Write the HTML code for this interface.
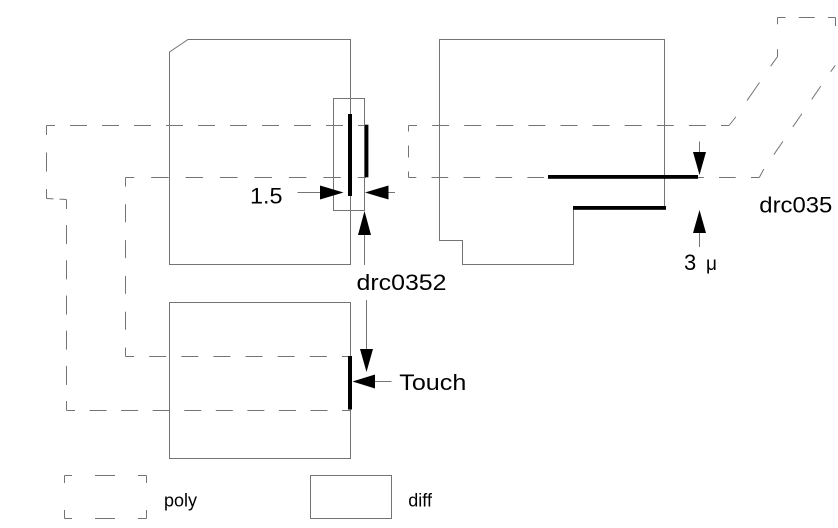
<!DOCTYPE html>
<html>
<head>
<meta charset="utf-8">
<style>
  html,body{margin:0;padding:0;background:#fff;}
  svg{display:block;}
  text{font-family:"Liberation Sans",Arial,sans-serif;fill:#000;}
</style>
</head>
<body>
<svg width="838" height="528" viewBox="0 0 838 528" xmlns="http://www.w3.org/2000/svg">
  <rect width="838" height="528" fill="#fff"/>

  <!-- diff outlines -->
  <g fill="none" stroke="#747474" stroke-width="1">
    <path d="M169.5,52 L188,39.5 L350.5,39.5 L350.5,264.5 L169.5,264.5 Z"/>
    <path d="M439.5,39.5 H664.5 V207.5 H573.5 V264.5 H462.5 V240.5 H439.5 Z"/>
    <rect x="169.5" y="302.5" width="181" height="156"/>
    <rect x="333.5" y="98.5" width="31" height="112"/>
    <rect x="310.5" y="475.5" width="81" height="43"/>
  </g>

  <!-- poly (dashed) outlines -->
  <g fill="none" stroke="#747474" stroke-width="1">
    <!-- left poly outer -->
    <line x1="46.5" y1="125.5" x2="366" y2="125.5" stroke-dasharray="17 15" stroke-dashoffset="8.5"/>
    <line x1="46.5" y1="125.5" x2="46.5" y2="198.5" stroke-dasharray="19 17.5" stroke-dashoffset="9.5"/>
    <line x1="46.5" y1="198.5" x2="66.5" y2="199.5" stroke-dasharray="14 6" stroke-dashoffset="7"/>
    <line x1="66.5" y1="199.5" x2="66.5" y2="410.5" stroke-dasharray="19 16.17" stroke-dashoffset="9.5"/>
    <line x1="66.5" y1="410.5" x2="350" y2="410.5" stroke-dasharray="17 14.56" stroke-dashoffset="8.5"/>
    <!-- left poly inner -->
    <line x1="125.5" y1="177.5" x2="366" y2="177.5" stroke-dasharray="17.5 16.93" stroke-dashoffset="8.75"/>
    <line x1="125.5" y1="177.5" x2="125.5" y2="356.5" stroke-dasharray="18 17.8" stroke-dashoffset="9"/>
    <line x1="125.5" y1="356.5" x2="350" y2="356.5" stroke-dasharray="17 15.14" stroke-dashoffset="8.5"/>

    <!-- right poly -->
    <line x1="408.5" y1="125.5" x2="729" y2="125.5" stroke-dasharray="17 15.1" stroke-dashoffset="8.5"/>
    <path d="M729,125.5 L735,118 L772.7,63.3 L777.5,56.7" stroke-dasharray="22 19.75" stroke-dashoffset="11"/>
    <line x1="777.5" y1="56.7" x2="777.5" y2="17.5" stroke-dasharray="15 25" stroke-dashoffset="7.5"/>
    <line x1="777.5" y1="17.5" x2="835.5" y2="17.5" stroke-dasharray="16 13.25" stroke-dashoffset="8"/>
    <path d="M835.5,17.5 L835.5,65 L830.7,71.7" stroke-dasharray="17 39.5" stroke-dashoffset="8.5"/>
    <line x1="830.7" y1="71.7" x2="763.3" y2="170" stroke-dasharray="16 17.5" stroke-dashoffset="16"/>
    <line x1="763.3" y1="170" x2="759.3" y2="177.5"/>
    <line x1="759.3" y1="177.5" x2="408.5" y2="177.5" stroke-dasharray="16.7 15.24" stroke-dashoffset="8.35"/>
    <line x1="408.5" y1="177.5" x2="408.5" y2="125.5" stroke-dasharray="12 14" stroke-dashoffset="6"/>

    <!-- legend poly -->
    <line x1="64.5" y1="475.5" x2="72" y2="475.5"/>
    <line x1="95" y1="475.5" x2="115" y2="475.5"/>
    <line x1="138" y1="475.5" x2="146.5" y2="475.5"/>
    <line x1="64.5" y1="518.5" x2="72" y2="518.5"/>
    <line x1="95" y1="518.5" x2="115" y2="518.5"/>
    <line x1="138" y1="518.5" x2="146.5" y2="518.5"/>
    <line x1="64.5" y1="475.5" x2="64.5" y2="483"/>
    <line x1="64.5" y1="510" x2="64.5" y2="518.5"/>
    <line x1="146.5" y1="475.5" x2="146.5" y2="483"/>
    <line x1="146.5" y1="510" x2="146.5" y2="518.5"/>
  </g>

  <!-- leader lines -->
  <g stroke="#747474" stroke-width="1">
    <line x1="297.5" y1="192.5" x2="321" y2="192.5"/>
    <line x1="387" y1="192.5" x2="395" y2="192.5"/>
    <line x1="364.5" y1="234" x2="364.5" y2="265"/>
    <line x1="366.5" y1="300" x2="366.5" y2="350"/>
    <line x1="374" y1="381.5" x2="391.5" y2="381.5"/>
    <line x1="699.5" y1="141.5" x2="699.5" y2="153"/>
    <line x1="699.5" y1="232" x2="699.5" y2="247"/>
  </g>

  <!-- thick bars -->
  <g fill="#000">
    <rect x="348" y="114" width="4" height="82"/>
    <rect x="364.8" y="124.7" width="3.6" height="52.6"/>
    <rect x="348" y="356" width="4" height="53.5"/>
    <rect x="548" y="175" width="150" height="3.8"/>
    <rect x="573" y="206" width="93" height="3.8"/>
  </g>

  <!-- arrowheads -->
  <g fill="#000">
    <polygon points="343.5,192.5 320,185.5 320,199.5"/>
    <polygon points="365,192.5 388.5,185.5 388.5,199.5"/>
    <polygon points="364.5,211 358,235 371,235"/>
    <polygon points="366.5,372 360,349 373,349"/>
    <polygon points="352.5,381.5 375,374.5 375,388.5"/>
    <polygon points="699.5,175 693,152 706,152"/>
    <polygon points="699.5,210 693,233 706,233"/>
  </g>

  <!-- labels -->
  <text x="250" y="203.5" font-size="22" textLength="32.5" lengthAdjust="spacingAndGlyphs">1.5</text>
  <text x="356.5" y="290" font-size="22" textLength="90" lengthAdjust="spacingAndGlyphs">drc0352</text>
  <text x="399.3" y="390" font-size="22" textLength="67" lengthAdjust="spacingAndGlyphs">Touch</text>
  <text x="759.3" y="212.3" font-size="22" textLength="73" lengthAdjust="spacingAndGlyphs">drc035</text>
  <text x="684" y="270" font-size="22">3<tspan x="706" font-size="19">μ</tspan></text>
  <text x="164" y="506.7" font-size="18">poly</text>
  <text x="408.3" y="506.7" font-size="18">diff</text>
</svg>
</body>
</html>
